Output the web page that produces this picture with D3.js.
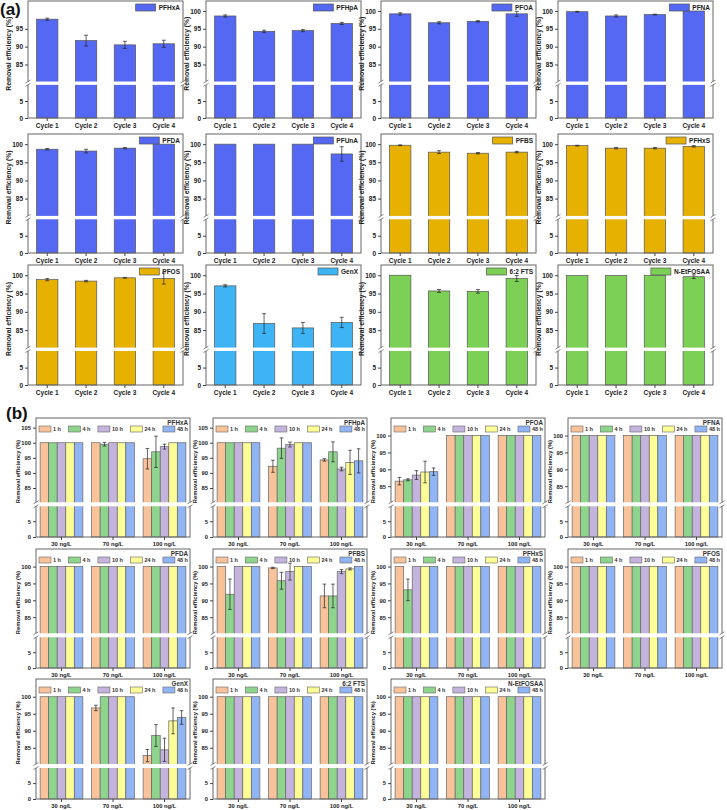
<!DOCTYPE html>
<html>
<head>
<meta charset="utf-8">
<script src="https://cdnjs.cloudflare.com/ajax/libs/d3/7.8.5/d3.min.js"></script>
<style>
body { margin: 0; background: #fff; }
svg { font-family: "Liberation Sans", Arial, sans-serif; }
</style>
</head>
<body>
<svg id="chart" width="727" height="810"></svg>
<script>
// ---- data: (a) recycling cycles ----
var cycles = ["Cycle 1", "Cycle 2", "Cycle 3", "Cycle 4"];
var cycleCompounds = ["PFHxA", "PFHpA", "PFOA", "PFNA", "PFDA", "PFUnA", "PFBS", "PFHxS", "PFOS", "GenX", "6:2 FTS", "N-EtFOSAA"];
var cycleMeans = [
  [97.7, 91.7, 90.5, 90.8],
  [98.6, 94.3, 94.5, 96.5],
  [99.2, 96.7, 97.1, 99.2],
  [99.8, 98.6, 99.0, 100],
  [98.6, 98.1, 98.9, 100],
  [100, 100, 100, 97.3],
  [99.7, 97.8, 97.5, 97.8],
  [99.6, 98.9, 98.9, 99.4],
  [98.8, 98.4, 99.3, 99.1],
  [97.1, 86.8, 85.6, 87.1],
  [100, 95.7, 95.6, 99.1],
  [99.9, 99.9, 99.9, 99.6]
];
var cycleErrors = [
  [0.3, 1.5, 1.0, 1.0],
  [0.3, 0.3, 0.3, 0.3],
  [0.3, 0.3, 0.2, 0.7],
  [0.1, 0.3, 0.1, 0],
  [0.2, 0.5, 0.2, 0],
  [0, 0, 0, 2.0],
  [0.1, 0.4, 0.2, 0.2],
  [0.1, 0.2, 0.2, 0.2],
  [0.3, 0.2, 0.1, 1.5],
  [0.3, 2.7, 1.5, 1.4],
  [0, 0.4, 0.5, 0.8],
  [0, 0, 0, 0.5]
];
var cycleColors = ["#5468f3", "#5468f3", "#5468f3", "#5468f3", "#5468f3", "#5468f3",
                   "#e6b100", "#e6b100", "#e6b100", "#3fb4f4", "#7bd055", "#7bd055"];

// ---- data: (b) contact time x concentration ----
var concLabels = ["30 ng/L", "70 ng/L", "100 ng/L"];
var timeLabels = ["1 h", "4 h", "10 h", "24 h", "48 h"];
var timeColors = ["#f8c39a", "#8fd48c", "#c4b4dd", "#fdfd98", "#90b4f4"];
var timeCompounds = ["PFHxA", "PFHpA", "PFOA", "PFNA", "PFDA", "PFBS", "PFHxS", "PFOS", "GenX", "6:2 FTS", "N-EtFOSAA"];
var full = [100, 100, 100, 100, 100];
var none = [0, 0, 0, 0, 0];
var timeMeans = [
  [full, [100, 99.5, 100, 100, 100], [94.7, 97.0, 98.7, 100, 100]],
  [full, [92.2, 98.2, 99.4, 100, 100], [94.3, 97.0, 91.3, 93.5, 94.0]],
  [[86.5, 86.9, 88.3, 89.2, 89.3], full, full],
  [full, full, full],
  [full, full, full],
  [[100, 91.8, 100, 100, 100], [99.6, 95.8, 98.5, 100, 100], [91.3, 91.3, 98.5, 99.3, 100]],
  [[100, 93.1, 100, 100, 100], full, full],
  [full, full, full],
  [full, [96.7, 100, 100, 100, 100], [82.7, 88.6, 84.4, 92.9, 93.9]],
  [full, full, full],
  [full, full, full]
];
var timeErrors = [
  [none, [0, 0.6, 0, 0, 0], [3.4, 5.2, 0.8, 0, 0]],
  [none, [2.0, 3.4, 0.8, 0, 0], [0.4, 3.3, 0.6, 4.0, 4.0]],
  [[1.1, 0.3, 1.3, 3.2, 1.1], none, none],
  [none, none, none],
  [none, none, none],
  [[0, 4.5, 0, 0, 0], [0.2, 2.5, 2.5, 0, 0], [3.5, 3.5, 0.6, 0.3, 0]],
  [[0, 3.2, 0, 0, 0], none, none],
  [none, none, none],
  [none, [0.8, 0, 0, 0, 0], [1.8, 3.2, 3.4, 3.8, 2.0]],
  [none, none, none],
  [none, none, none]
];

var lowerTicks = [0, 5];
var upperTicks = [85, 90, 95, 100];
var upperTicksTall = [85, 90, 95, 100, 105];

// ---- layout ----
var svg = d3.select("#chart");
var aCols = [28, 206, 381, 558], aW = 155;
var aRows = [[1, 118], [134, 253], [265, 385]];
var bCols = [36, 213, 391, 568], bW = 154;
var bRows = [[418, 537], [549, 668], [679, 799]];

// broken y scale: 0-10 at the bottom, 80-top above the break
function breakScale(t, b, top, lo, hi) {
  var h = b - t;
  return d3.scaleLinear().domain([0, 10, 80, top]).range([b, b - lo * h, b - hi * h, t]);
}

function drawLeftAxis(g, x0, y, ticks, fs) {
  g.append("g")
    .attr("transform", "translate(" + x0 + ",0)")
    .attr("color", "#444")
    .call(d3.axisLeft(y).tickValues(ticks).tickSize(3).tickPadding(2))
    .call(function(a) { a.select(".domain").remove(); })
    .selectAll("text")
    .style("font-size", fs + "px")
    .style("font-weight", "bold")
    .attr("fill", "#222");
}

function drawBottomAxis(g, b, x, fs) {
  g.append("g")
    .attr("transform", "translate(0," + b + ")")
    .attr("color", "#444")
    .call(d3.axisBottom(x).tickSize(3).tickPadding(2))
    .call(function(a) { a.select(".domain").remove(); })
    .selectAll("text")
    .style("font-size", fs + "px")
    .style("font-weight", "bold")
    .attr("fill", "#222");
}

function drawFrame(g, x0, w, t, b) {
  g.append("rect")
    .attr("x", x0).attr("y", t)
    .attr("width", w).attr("height", b - t)
    .attr("fill", "none")
    .attr("stroke", "#666")
    .attr("stroke-width", 1);
}

function drawBreak(g, x0, w, y) {
  var y1 = y(80) - 0.8, y2 = y(10) + 0.8;
  g.append("rect")
    .attr("x", x0 - 4).attr("y", y1)
    .attr("width", w + 8).attr("height", y2 - y1)
    .attr("fill", "#fff");
  [x0, x0 + w].forEach(function(xx) {
    [y1, y2].forEach(function(yy) {
      g.append("line")
        .attr("x1", xx - 2.5).attr("y1", yy + 1.5)
        .attr("x2", xx + 2.5).attr("y2", yy - 1.5)
        .attr("stroke", "#555").attr("stroke-width", 0.7);
    });
  });
}

function drawYLabel(g, x, yc, fs) {
  g.append("text")
    .attr("transform", "translate(" + x + "," + yc + ") rotate(-90)")
    .attr("text-anchor", "middle")
    .style("font-size", fs + "px")
    .style("font-weight", "bold")
    .attr("fill", "#222")
    .text("Removal efficiency (%)");
}

function drawErrors(g, data, cx, y, cap) {
  var eb = g.selectAll(null).data(data.filter(function(d) { return d.e > 0; })).enter().append("g")
    .attr("stroke", "#222").attr("stroke-width", 0.7);
  eb.append("line")
    .attr("x1", function(d) { return cx(d); }).attr("x2", function(d) { return cx(d); })
    .attr("y1", function(d) { return y(d.v - d.e); }).attr("y2", function(d) { return y(d.v + d.e); });
  [-1, 1].forEach(function(s) {
    eb.append("line")
      .attr("x1", function(d) { return cx(d) - cap; }).attr("x2", function(d) { return cx(d) + cap; })
      .attr("y1", function(d) { return y(d.v + s * d.e); }).attr("y2", function(d) { return y(d.v + s * d.e); });
  });
}

// ---- (a) panels ----
cycleCompounds.forEach(function(name, i) {
  var col = i % 4, row = Math.floor(i / 4);
  var x0 = aCols[col], t = aRows[row][0], b = aRows[row][1];
  var y = breakScale(t, b, 102.8, 0.29, 0.305);
  var x = d3.scaleBand().domain(cycles).range([x0, x0 + aW]).paddingInner(0.45).paddingOuter(0.22);
  var g = svg.append("g");
  var data = cycles.map(function(c, j) { return { c: c, v: cycleMeans[i][j], e: cycleErrors[i][j] }; });

  g.selectAll("rect.bar").data(data).enter().append("rect")
    .attr("class", "bar")
    .attr("x", function(d) { return x(d.c); })
    .attr("width", x.bandwidth())
    .attr("y", function(d) { return y(d.v); })
    .attr("height", function(d) { return b - y(d.v); })
    .attr("fill", cycleColors[i])
    .attr("stroke", "#555")
    .attr("stroke-width", 0.7);

  drawErrors(g, data, function(d) { return x(d.c) + x.bandwidth() / 2; }, y, 2);
  drawFrame(g, x0, aW, t, b);
  // the first panel's 100 label sits under the "(a)" tag in the reference
  drawLeftAxis(g, x0, y, lowerTicks.concat(i === 0 ? upperTicks.slice(0, 3) : upperTicks), 6.5);
  drawBottomAxis(g, b, x, 6.5);
  drawBreak(g, x0, aW, y);
  drawYLabel(g, x0 - 17, t + 0.45 * (b - t), 6.8);

  // legend
  var lt = g.append("text")
    .attr("x", x0 + aW - 3).attr("y", t + 9)
    .attr("text-anchor", "end")
    .style("font-size", "6.5px").style("font-weight", "bold")
    .attr("fill", "#222")
    .text(name);
  var tw = lt.node().getComputedTextLength();
  g.append("rect")
    .attr("x", x0 + aW - 3 - tw - 23).attr("y", t + 3)
    .attr("width", 20).attr("height", 7)
    .attr("fill", cycleColors[i]).attr("stroke", "#555").attr("stroke-width", 0.7);
});

// ---- (b) panels ----
timeCompounds.forEach(function(name, i) {
  var col = i % 4, row = Math.floor(i / 4);
  var x0 = bCols[col], t = bRows[row][0], b = bRows[row][1];
  var tall = name === "PFHxA" || name === "PFHpA";
  var y = breakScale(t, b, tall ? 108.2 : 105.2, 0.265, 0.285);
  var x = d3.scaleBand().domain(concLabels).range([x0, x0 + bW]).paddingInner(0.17).paddingOuter(0.08);
  var xs = d3.scaleBand().domain(timeLabels).range([0, x.bandwidth()]);
  var g = svg.append("g");
  var data = [];
  concLabels.forEach(function(c, ci) {
    timeLabels.forEach(function(h, hi) {
      data.push({ c: c, h: h, k: hi, v: timeMeans[i][ci][hi], e: timeErrors[i][ci][hi] });
    });
  });

  g.selectAll("rect.bar").data(data).enter().append("rect")
    .attr("class", "bar")
    .attr("x", function(d) { return x(d.c) + xs(d.h); })
    .attr("width", xs.bandwidth())
    .attr("y", function(d) { return y(d.v); })
    .attr("height", function(d) { return b - y(d.v); })
    .attr("fill", function(d) { return timeColors[d.k]; })
    .attr("stroke", "#666")
    .attr("stroke-width", 0.7);

  drawErrors(g, data, function(d) { return x(d.c) + xs(d.h) + xs.bandwidth() / 2; }, y, 1.8);
  drawFrame(g, x0, bW, t, b);
  drawLeftAxis(g, x0, y, lowerTicks.concat(tall ? upperTicksTall : upperTicks), 5.8);
  drawBottomAxis(g, b, x, 5.8);
  drawBreak(g, x0, bW, y);
  drawYLabel(g, x0 - 16, t + 0.45 * (b - t), 5.8);

  // compound name
  g.append("text")
    .attr("x", x0 + bW - 2).attr("y", t + 7)
    .attr("text-anchor", "end")
    .style("font-size", "6.3px").style("font-weight", "bold")
    .attr("fill", "#333")
    .text(name);

  // time legend
  var lx = x0 + 3;
  timeLabels.forEach(function(h, k) {
    g.append("rect")
      .attr("x", lx).attr("y", t + 8)
      .attr("width", 12).attr("height", 6)
      .attr("fill", timeColors[k]).attr("stroke", "#666").attr("stroke-width", 0.6);
    var tx = g.append("text")
      .attr("x", lx + 14).attr("y", t + 13.2)
      .style("font-size", "5.5px").style("font-weight", "bold")
      .attr("fill", "#333")
      .text(h);
    lx += 14 + tx.node().getComputedTextLength() + 7.5;
  });
});

// ---- section labels ----
svg.append("text").attr("x", 0).attr("y", 15)
  .style("font-size", "17px").style("font-weight", "bold").attr("fill", "#111").text("(a)");
svg.append("text").attr("x", 6).attr("y", 419)
  .style("font-size", "17px").style("font-weight", "bold").attr("fill", "#111").text("(b)");
</script>
</body>
</html>
